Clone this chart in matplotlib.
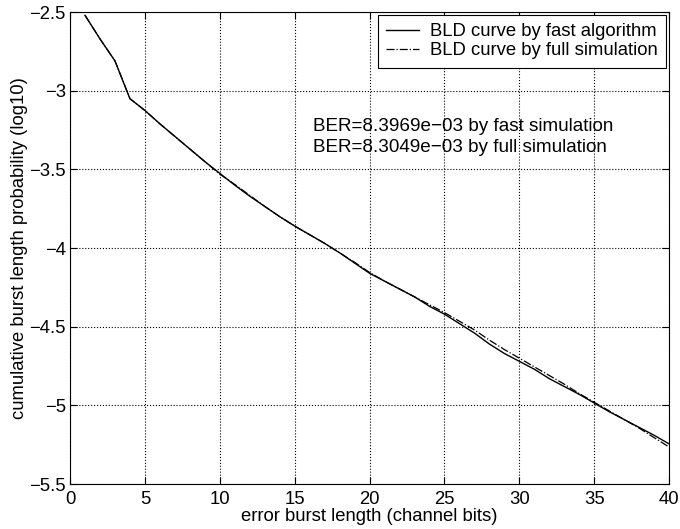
import numpy as np
import matplotlib
matplotlib.use('Agg')
import matplotlib.pyplot as plt

plt.rcParams['font.family'] = ['Liberation Sans', 'DejaVu Sans']

# burst length (channel bits)
burst_len = list(range(1, 41))

# log10 cumulative burst length probability, fast algorithm
fast_alg = [-2.52, -2.67, -2.81, -3.05, -3.125, -3.21, -3.29, -3.37, -3.45, -3.525,
            -3.60, -3.67, -3.735, -3.80, -3.86, -3.915, -3.97, -4.03, -4.095, -4.16,
            -4.21, -4.26, -4.31, -4.37, -4.42, -4.48, -4.54, -4.61, -4.67, -4.72,
            -4.77, -4.83, -4.88, -4.93, -4.985, -5.04, -5.09, -5.14, -5.19, -5.245]

# log10 cumulative burst length probability, full simulation
full_sim = [-2.52, -2.67, -2.81, -3.05, -3.125, -3.21, -3.29, -3.37, -3.45, -3.53,
            -3.595, -3.665, -3.735, -3.80, -3.86, -3.915, -3.97, -4.03, -4.09, -4.155,
            -4.21, -4.26, -4.31, -4.36, -4.41, -4.465, -4.52, -4.585, -4.645, -4.70,
            -4.755, -4.81, -4.865, -4.925, -4.98, -5.035, -5.09, -5.145, -5.205, -5.265]

ber_text = ['BER=8.3969e\u221203 by fast simulation',
            'BER=8.3049e\u221203 by full simulation']

fs = 13.3

fig = plt.figure(figsize=(6.8, 5.29), dpi=100)
ax = fig.add_axes([0.103, 0.085, 0.881, 0.892])

ax.plot(burst_len, fast_alg, 'k-', lw=1.0, label='BLD curve by fast algorithm')
ax.plot(burst_len, full_sim, 'k-.', lw=0.9, label='BLD curve by full simulation')

ax.set_xlim(0, 40)
ax.set_ylim(-5.5, -2.5)
ax.set_xticks(range(0, 41, 5))
ax.set_yticks(np.arange(-5.5, -2.49, 0.5))
ax.set_yticklabels(['\u22125.5', '\u22125', '\u22124.5', '\u22124', '\u22123.5', '\u22123', '\u22122.5'])
ax.tick_params(direction='in', top=True, right=True, labelsize=fs, length=5)
ax.tick_params(axis='x', pad=5)
ax.tick_params(axis='y', pad=3)
ax.grid(True, color='k', linestyle=':', linewidth=0.8)

ax.set_xlabel('error burst length (channel bits)', fontsize=fs, labelpad=0)
ax.set_ylabel('cumulative burst length probability (log10)', fontsize=fs, labelpad=1)

ax.text(16.2, -3.225, ber_text[0], fontsize=13.6, va='center')
ax.text(16.2, -3.36, ber_text[1], fontsize=13.6, va='center')

leg = ax.legend(loc='upper right', fontsize=fs, fancybox=False, framealpha=1,
                edgecolor='k', handlelength=1.8, borderaxespad=0.15,
                borderpad=0.45, labelspacing=0.12, handletextpad=0.6)
leg.get_frame().set_linewidth(0.8)

plt.savefig('out.png', dpi=100)
